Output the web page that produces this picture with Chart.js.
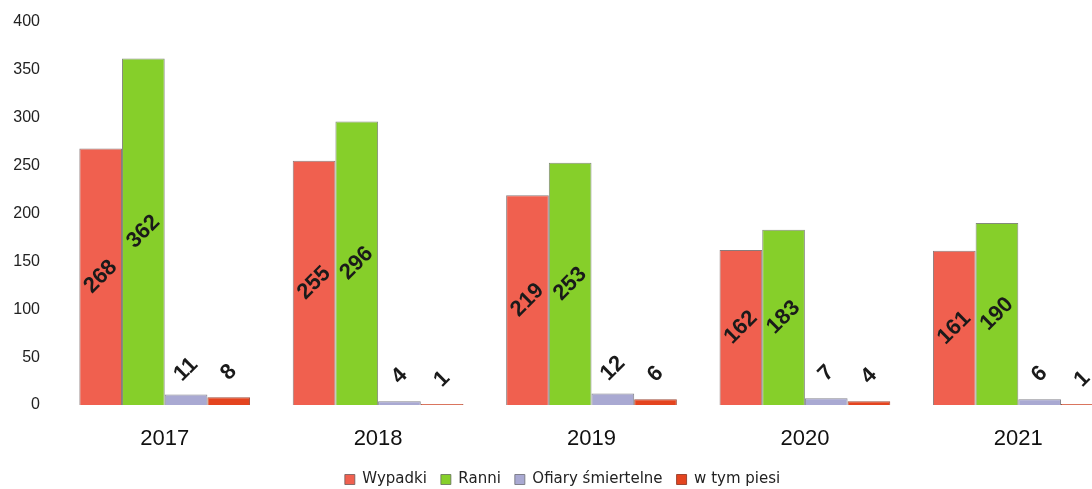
<!DOCTYPE html>
<html>
<head>
<meta charset="utf-8">
<script src="https://cdn.jsdelivr.net/npm/chart.js@4"></script>
<style>
  html, body { margin: 0; padding: 0; background: #fff; overflow: hidden; }
  #wrap { width: 1125px; height: 497px; }
</style>
</head>
<body>
<div id="wrap"><canvas id="barChart" width="1125" height="497"></canvas></div>
<script>
var years = ["2017", "2018", "2019", "2020", "2021"];
var wypadki = [268, 255, 219, 162, 161];
var ranni = [362, 296, 253, 183, 190];
var ofiary = [11, 4, 12, 7, 6];
var piesi = [8, 1, 6, 4, 1];
var yTicks = [0, 50, 100, 150, 200, 250, 300, 350, 400];

// value labels: rotated, inside tall bars, above short ones
var valueLabels = {
  id: 'valueLabels',
  afterDatasetsDraw: function (chart) {
    var ctx = chart.ctx;
    ctx.save();
    ctx.font = 'bold 22px "Liberation Sans", Arial, sans-serif';
    ctx.fillStyle = '#1a1a1a';
    ctx.textAlign = 'center';
    ctx.textBaseline = 'middle';
    chart.data.datasets.forEach(function (ds, i) {
      chart.getDatasetMeta(i).data.forEach(function (bar, j) {
        var h = bar.base - bar.y;
        var cy = h > 60 ? (bar.y + bar.base) / 2 : bar.y - 25;
        ctx.save();
        ctx.translate(bar.x, cy);
        ctx.rotate(-Math.PI / 4);
        ctx.fillText(String(ds.data[j]), 0, 0);
        ctx.restore();
      });
    });
    ctx.restore();
  }
};

var ctx = document.getElementById('barChart').getContext('2d');
new Chart(ctx, {
  type: 'bar',
  data: {
    labels: years,
    datasets: [
      { label: 'Wypadki', data: wypadki, backgroundColor: '#f0604f', borderColor: 'rgba(110,90,90,0.8)', borderWidth: 1 },
      { label: 'Ranni', data: ranni, backgroundColor: '#86cf2a', borderColor: 'rgba(100,110,90,0.8)', borderWidth: 1 },
      { label: 'Ofiary śmiertelne', data: ofiary, backgroundColor: '#a9a9d2', borderColor: 'rgba(120,120,130,0.9)', borderWidth: 1 },
      { label: 'w tym piesi', data: piesi, backgroundColor: '#e4441f', borderColor: 'rgba(150,60,40,0.9)', borderWidth: 1 }
    ]
  },
  options: {
    responsive: false,
    animation: false,
    categoryPercentage: 0.8,
    barPercentage: 1.0,
    layout: { padding: { top: 22, bottom: 0, left: 0, right: 0 } },
    plugins: {
      legend: {
        position: 'bottom',
        padding: 0,
        labels: {
          boxWidth: 10,
          boxHeight: 10,
          padding: 14,
          color: '#222',
          font: { family: '"DejaVu Sans", sans-serif', size: 15 }
        }
      },
      tooltip: { enabled: false }
    },
    scales: {
      x: {
        grid: { display: false, drawTicks: false },
        border: { display: false },
        afterFit: function (scale) { scale.height = 53; },
        ticks: {
          color: '#111',
          padding: 21,
          font: { family: '"Liberation Sans", Arial, sans-serif', size: 22 }
        }
      },
      y: {
        min: 0,
        max: 400,
        grid: { display: false, drawTicks: false },
        border: { display: false },
        afterFit: function (scale) {
          scale.width = 58;
          scale.paddingTop = 0;
          scale.paddingBottom = 0;
        },
        afterBuildTicks: function (scale) {
          scale.ticks = yTicks.map(function (v) { return { value: v }; });
        },
        ticks: {
          color: '#222',
          padding: 18,
          font: { family: '"Liberation Sans", Arial, sans-serif', size: 16 }
        }
      }
    }
  },
  plugins: [valueLabels]
});
</script>
</body>
</html>
